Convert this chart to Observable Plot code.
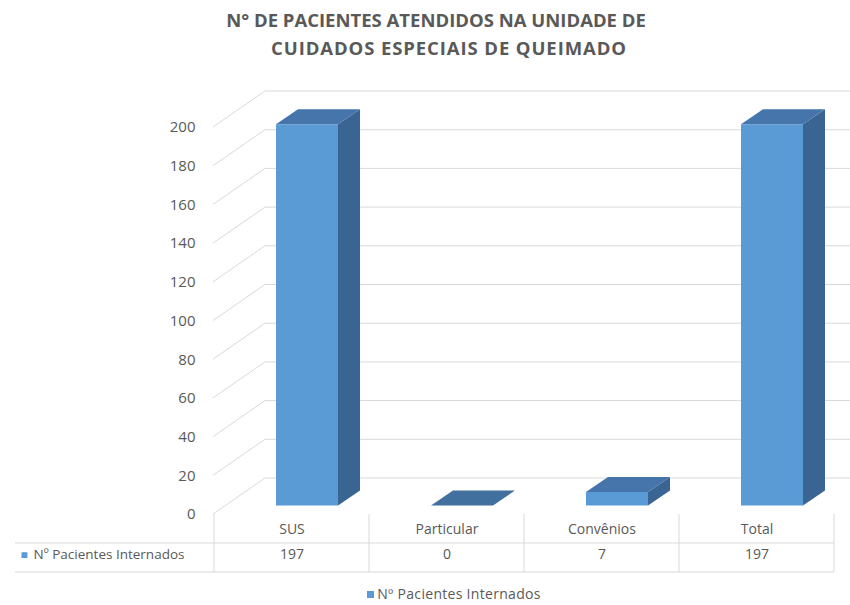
<!DOCTYPE html>
<html><head><meta charset="utf-8">
<script src="https://cdn.jsdelivr.net/npm/d3@7"></script>
<script src="https://cdn.jsdelivr.net/npm/@observablehq/plot@0.6"></script>
<style>
body{margin:0;background:#fff;font-family:"Open Sans",sans-serif;width:850px;}
#title{height:76px;box-sizing:border-box;padding-top:6px;font-weight:bold;font-size:18.5px;line-height:28px;color:#595959;}
#title div{text-align:center;white-space:nowrap;}
#t1{padding-left:22px;}
#t2{padding-left:48px;letter-spacing:0.9px;}
#legend{height:25px;box-sizing:border-box;padding-left:58px;text-align:center;font-size:14px;letter-spacing:0.3px;line-height:28px;color:#595959;}
#legend .sw{display:inline-block;width:7px;height:7px;background:#5b9bd5;margin-right:3px;vertical-align:1px;}
#chart svg{display:block;}
</style></head><body>
<div id="title"><div id="t1">N° DE PACIENTES ATENDIDOS NA UNIDADE DE</div><div id="t2">CUIDADOS ESPECIAIS DE QUEIMADO</div></div>
<div id="chart"></div>
<div id="legend"><span class="sw"></span>Nº Pacientes Internados</div>
<script>
const categories = ["SUS", "Particular", "Convênios", "Total"];
const values = [197, 0, 7, 197];
const yTicks = [0, 20, 40, 60, 80, 100, 120, 140, 160, 180, 200];
const seriesName = "Nº Pacientes Internados";

const data = categories.map((c, i) => ({cat: c, value: values[i]}));

const COLORS = {front: "#5b9bd5", top: "#4575aa", side: "#3a6593", grid: "#d9d9d9", text: "#595959"};
const INL = 62, INR = 31;           // bar insets within column
const BDX = 22, BDY = -15;          // bar depth
const FDX = -11, FDY = 8.5;         // front plane offset vs bar plane
const KDX = 41, KDY = -27.5;        // back plane offset vs bar plane

function bw(scales, dims) {
  const x = scales.x;
  if (x && typeof x.bandwidth === "function") return x.bandwidth();
  return (dims.width - dims.marginLeft - dims.marginRight) / categories.length;
}

function walls(index, scales, values, dims) {
  const y = scales.y;
  const g = d3.create("svg:g").attr("stroke", COLORS.grid).attr("fill", "none").attr("stroke-width", 1);
  const xf = dims.marginLeft, xb = dims.marginLeft + (KDX - FDX);
  for (const t of yTicks) {
    const yf = y(t) + FDY, yb = y(t) + KDY;
    g.append("line").attr("x1", xf).attr("y1", yf).attr("x2", xb).attr("y2", yb);
    g.append("line").attr("x1", xb).attr("y1", yb).attr("x2", dims.width).attr("y2", yb);
  }
  return g.node();
}

function table(index, scales, values, dims) {
  const x = scales.x, y = scales.y, w = bw(scales, dims);
  const g = d3.create("svg:g").attr("stroke", COLORS.grid).attr("fill", "none").attr("stroke-width", 1);
  const top = y(0) + FDY, mid = top + 29, bot = top + 58;
  categories.forEach((c, i) => {
    if (i === 0) g.append("line").attr("x1", x(c)).attr("x2", x(c)).attr("y1", top).attr("y2", bot);
    g.append("line").attr("x1", x(c) + w).attr("x2", x(c) + w).attr("y1", top).attr("y2", bot);
  });
  const right = x(categories[categories.length - 1]) + w;
  g.append("line").attr("x1", 15).attr("x2", right).attr("y1", mid).attr("y2", mid);
  g.append("line").attr("x1", 15).attr("x2", right).attr("y1", bot).attr("y2", bot);
  return g.node();
}

function bars3d(index, scales, values, dims, context, next) {
  const g = next(index, scales, values, dims, context);
  const x = scales.x, y = scales.y, w = bw(scales, dims);
  const extra = d3.create("svg:g");
  for (const i of index) {
    const d = data[i];
    const x0 = x(d.cat) + INL, x1 = x(d.cat) + w - INR;
    const yt = y(d.value), yb = y(0);
    const pts = a => a.map(p => p.join(",")).join(" ");
    if (yb - yt > 0.5) {
      extra.append("polygon").attr("fill", COLORS.side)
        .attr("points", pts([[x1, yt], [x1, yb], [x1 + BDX, yb + BDY], [x1 + BDX, yt + BDY]]));
    }
    extra.append("polygon").attr("fill", d.value === 0 ? "#41709f" : COLORS.top)
      .attr("points", pts([[x0, yt], [x1, yt], [x1 + BDX, yt + BDY], [x0 + BDX, yt + BDY]]));
  }
  g.appendChild(extra.node());
  return g;
}

const chart = Plot.plot({
  width: 850,
  height: 504,
  marginLeft: 213,
  marginRight: 15,
  marginTop: 42.5,
  marginBottom: 74.5,
  style: {fontFamily: "'Open Sans', sans-serif", fontSize: "13px", color: COLORS.text, background: "#fff"},
  x: {domain: categories, padding: 0, axis: null},
  y: {domain: [0, 200], axis: null},
  marks: [
    Plot.ruleY(yTicks, {y: d => d, render: walls}),
    Plot.ruleX(categories, {x: d => d, render: table}),
    Plot.barY(data, {x: "cat", y: "value", fill: COLORS.front, insetLeft: INL, insetRight: INR, render: bars3d}),
    Plot.text(yTicks, {y: d => d, text: d => String(d), frameAnchor: "left", textAnchor: "end", dx: -18, dy: FDY, fontSize: 15, fill: COLORS.text}),
    Plot.text(categories, {x: d => d, text: d => d, frameAnchor: "bottom", dy: 27.5, fontSize: 14, fill: COLORS.text}),
    Plot.text(data, {x: "cat", text: d => String(d.value), frameAnchor: "bottom", dy: 52.5, fontSize: 14, fill: COLORS.text}),
    Plot.text([seriesName], {text: d => d, frameAnchor: "bottom-left", textAnchor: "start", dx: -180, dy: 52.5, fontSize: 13.5, fill: COLORS.text, style: {letterSpacing: "0.3px"}}),
    Plot.text(["■"], {text: d => d, frameAnchor: "bottom-left", textAnchor: "start", dx: -193, dy: 52.5, fontSize: 12, fill: COLORS.front})
  ]
});
document.getElementById("chart").appendChild(chart);
</script>
</body></html>
